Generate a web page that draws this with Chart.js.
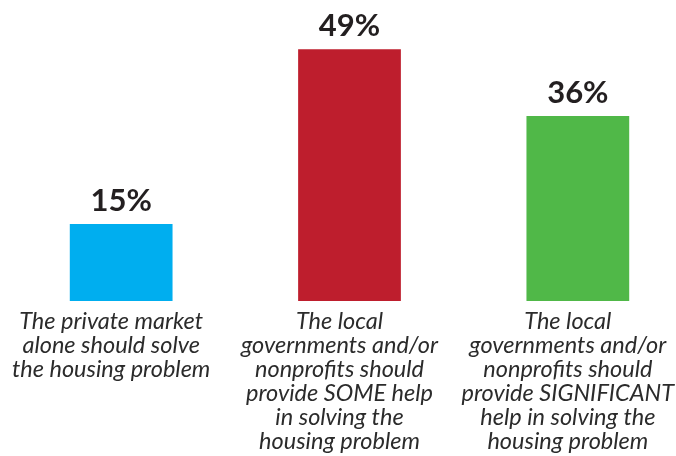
<!DOCTYPE html>
<html>
<head>
<meta charset="utf-8">
<script src="https://cdn.jsdelivr.net/npm/chart.js@4"></script>
<style>
  html, body { margin:0; padding:0; background:#fff; overflow:hidden; }
  .wrap { width:700px; height:456px; position:relative; }
</style>
</head>
<body>
<div class="wrap"><canvas id="chart"></canvas></div>
<script>
const categories = [
  ['The private market', 'alone should solve', 'the housing problem'],
  ['The local', 'governments and/or', 'nonprofits should', 'provide SOME help', 'in solving the', 'housing problem'],
  ['The local', 'governments and/or', 'nonprofits should', 'provide SIGNIFICANT', 'help in solving the', 'housing problem']
];
const values = [15, 49, 36];
const barColors = ['#00aeef', '#be1e2d', '#50b848'];

// draws the "49%" style numbers above each bar
const valueLabels = {
  id: 'valueLabels',
  afterDatasetsDraw(chart) {
    const ctx = chart.ctx;
    const meta = chart.getDatasetMeta(0);
    ctx.save();
    ctx.font = 'bold 31px Lato';
    ctx.fillStyle = '#231f20';
    ctx.textAlign = 'center';
    ctx.textBaseline = 'alphabetic';
    meta.data.forEach((bar, i) => {
      ctx.fillText(values[i] + '%', bar.x, bar.y - 13);
    });
    ctx.restore();
  }
};

new Chart(document.getElementById('chart'), {
  type: 'bar',
  data: {
    labels: categories,
    datasets: [{
      data: values,
      backgroundColor: barColors,
      barPercentage: 0.9,
      categoryPercentage: 0.5
    }]
  },
  options: {
    responsive: true,
    maintainAspectRatio: false,
    animation: false,
    layout: { padding: { left: 7, right: 8, top: 3, bottom: 3 } },
    plugins: { legend: { display: false }, tooltip: { enabled: false } },
    scales: {
      x: {
        grid: { display: false },
        border: { display: false },
        ticks: {
          color: '#2b2b2b',
          padding: 0,
          labelOffset: -10,
          autoSkip: false,
          maxRotation: 0,
          font: { family: 'Lato', size: 23.5, style: 'italic', lineHeight: '24px' }
        }
      },
      y: { display: false, min: 0, max: 58 }
    }
  },
  plugins: [valueLabels]
});
</script>
</body>
</html>
